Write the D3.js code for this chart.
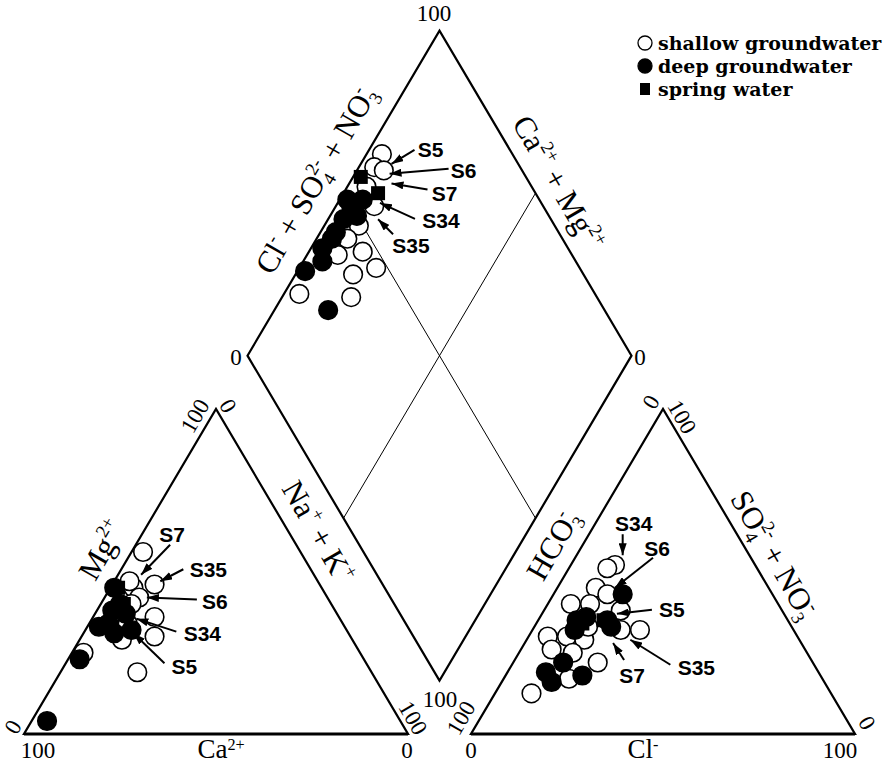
<!DOCTYPE html>
<html>
<head>
<meta charset="utf-8">
<script src="https://cdn.jsdelivr.net/npm/d3@7/dist/d3.min.js"></script>
<style>
  body { margin: 0; background: #fff; }
  svg { display: block; }
</style>
</head>
<body>
<script>
// cation triangle: [Ca2+, Mg2+] in meq %, Na+ + K+ is the remainder
const cationShallow = [[41,56],[43,46],[48,36],[51,30],[61,19],[60,29],[72,25],[49,45],[49,42],[56,34],[49,47],[52,40]];
const cationDeep = [[74,23],[64,33],[92,4],[54,45],[55,40],[58,38],[55,37],[61,31],[56,32],[61,34]];
const cationSpring = [[53,45],[54,40],[61,31]];

// anion triangle: [Cl-, SO4 2- + NO3-] in meq %, HCO3- is the remainder
const anionShallow = [[11.5,52],[10,51],[10,45],[14,43],[6,40],[11,40],[5,30],[8,26],[10,30],[15,29],[23,32],[28,32],[22,22],[14,25],[9.5,12.5],[17,17],[14,33],[20,38]];
const anionDeep = [[18,43],[10,35],[12,36],[18,35],[20,33],[11,32],[13,22],[10,19],[13,16],[20,18]];
const anionSpring = [[12,34],[17,35]];

// diamond: [Ca2+ + Mg2+, Cl- + SO4 2- + NO3-] in meq %
const diamondShallow = [[96,66],[96,62],[93,64],[90,56],[91,49],[92,44],[86,46],[92,39],[80,47],[85,40],[82,36],[96,23],[95,57]];
const diamondDeep = [[98,28],[95,34],[97,36],[86,28],[96,42],[96,46],[96,50],[93,50],[98,50],[96,40],[94,54]];
const diamondSpring = [[98,57],[91,59]];

const seriesNames = ["shallow groundwater", "deep groundwater", "spring water"];

// labelled samples, target value in each panel
const cationNotes = [["S7",45,49],["S35",41,47],["S6",47,42],["S34",53,35.5],["S5",56,31]];
const anionNotes = [["S34",12,55],["S6",15,45],["S5",19.5,37],["S35",27,29],["S7",23,28]];
const diamondNotes = [["S5",92,67],["S6",91,65],["S7",89,64],["S34",89,58],["S35",87,55]];

// where the label sits from the arrow tip: [labelDx, labelDy, tailDx, tailDy]
const noteOffsets = {
  cation: { S7:[31,-40,29,-30], S35:[48,-12,23,-12], S6:[68,4,50,2], S34:[66,15,40,13], S5:[51,33,31,30] },
  anion: { S34:[11,-32,0,-21], S6:[42,-39,38,-30], S5:[55,-4,35,-4], S35:[66,28,40,25], S7:[19,32,11,17] },
  diamond: { S5:[39,-14,23,-14], S6:[74,-3,59,-5], S7:[53,10,36,6], S34:[61,18,35,16], S35:[33,26,15,15] }
};

const width = 896, height = 766;
const base = 734, side = 384, triH = 325, gap = 63;
const leftX0 = 24, rightX0 = leftX0 + side + gap;

// scales for the two triangles (horizontal position / height in %)
const cx = d3.scaleLinear().domain([0, 100]).range([leftX0, leftX0 + side]);
const cy = d3.scaleLinear().domain([0, 100]).range([base, base - triH]);
const ax = d3.scaleLinear().domain([0, 100]).range([rightX0, rightX0 + side]);
const ay = d3.scaleLinear().domain([0, 100]).range([base, base - triH]);

// diamond sits above the gap
const bx = (leftX0 + side + rightX0) / 2;
const by = base - gap * triH / side;
const dx = d3.scaleLinear().domain([-100, 100]).range([bx - side / 2, bx + side / 2]);
const dy = d3.scaleLinear().domain([0, 200]).range([by, by - 2 * triH]);

const cationPos = d => [cx((100 - d[0] - d[1]) + d[1] / 2), cy(d[1])];
const anionPos = d => [ax(d[0] + d[1] / 2), ay(d[1])];
const diamondPos = d => [dx(d[1] - d[0]), dy(d[0] + d[1])];

const serif = "'Liberation Serif', 'Times New Roman', serif";

// parts: [text], [text,"sup"], [text,"sub"], [sub,sup,"stack"]
function richText(g, parts, size, raise = 0.42) {
  const t = g.append("text")
    .attr("font-family", serif)
    .attr("font-size", size)
    .attr("text-anchor", "middle")
    .attr("y", size * 0.33);
  const small = size * 0.6;
  const up = -raise * size, down = 0.22 * size;
  let shift = 0;
  parts.forEach(p => {
    if (p[2] === "stack") {
      t.append("tspan").attr("dy", down - shift).attr("font-size", small).text(p[0]);
      t.append("tspan").attr("dy", up - down).attr("dx", -0.5 * small * p[0].length)
        .attr("font-size", small).text(p[1]);
      shift = up;
      return;
    }
    const kind = p[1];
    const target = kind === "sup" ? up : kind === "sub" ? down : 0;
    t.append("tspan")
      .attr("dy", target - shift)
      .attr("font-size", kind ? small : size)
      .text(p[0]);
    shift = target;
  });
  return t;
}

function label(svg, x, y, rot, parts, size, raise) {
  const g = svg.append("g").attr("transform", `translate(${x},${y}) rotate(${rot})`);
  richText(g, parts, size, raise);
}

function drawPoints(g, data, pos, kind) {
  if (kind === "spring") {
    g.selectAll(null).data(data).join("rect")
      .attr("x", d => pos(d)[0] - 7)
      .attr("y", d => pos(d)[1] - 7)
      .attr("width", 14).attr("height", 14)
      .attr("fill", "#000");
    return;
  }
  g.selectAll(null).data(data).join("circle")
    .attr("cx", d => pos(d)[0])
    .attr("cy", d => pos(d)[1])
    .attr("r", 9.3)
    .attr("fill", kind === "deep" ? "#000" : "#fff")
    .attr("stroke", "#000")
    .attr("stroke-width", 1.6);
}

function drawNotes(g, notes, pos, offsets) {
  notes.forEach(n => {
    const [tx, ty] = pos([n[1], n[2]]);
    const o = offsets[n[0]];
    g.append("line")
      .attr("x1", tx + o[2]).attr("y1", ty + o[3])
      .attr("x2", tx).attr("y2", ty)
      .attr("stroke", "#000").attr("stroke-width", 2)
      .attr("marker-end", "url(#arrow)");
    g.append("text")
      .attr("x", tx + o[0]).attr("y", ty + o[1])
      .attr("dominant-baseline", "central")
      .attr("text-anchor", "middle")
      .attr("font-family", "'Liberation Sans', Arial, sans-serif")
      .attr("font-weight", "bold")
      .attr("font-size", 21)
      .text(n[0]);
  });
}

function createSVG() {
  const svg = d3.select("body").append("svg")
    .attr("width", width)
    .attr("height", height);

  svg.append("defs").append("marker")
    .attr("id", "arrow")
    .attr("viewBox", "0 0 12 8")
    .attr("refX", 12).attr("refY", 4)
    .attr("markerWidth", 12).attr("markerHeight", 8)
    .attr("markerUnits", "userSpaceOnUse")
    .attr("orient", "auto")
    .append("path").attr("d", "M0,0 L12,4 L0,8 Z").attr("fill", "#000");

  const line = d3.line();

  // diamond inner lines
  svg.append("path")
    .attr("d", line([diamondPos([100, 50]), diamondPos([0, 50])]) + line([diamondPos([50, 100]), diamondPos([50, 0])]))
    .attr("fill", "none").attr("stroke", "#000").attr("stroke-width", 1);

  // outlines
  const leftTri = [cationPos([100, 0]), cationPos([0, 0]), cationPos([0, 100])];
  const rightTri = [anionPos([0, 0]), anionPos([100, 0]), anionPos([0, 100])];
  const diamond = [diamondPos([0, 0]), diamondPos([100, 0]), diamondPos([100, 100]), diamondPos([0, 100])];
  [leftTri, rightTri, diamond].forEach(p => {
    svg.append("path").attr("d", line(p) + "Z")
      .attr("fill", "none").attr("stroke", "#000").attr("stroke-width", 2.2)
      .attr("stroke-linejoin", "miter");
  });
  [leftTri, rightTri].forEach(p => {
    svg.append("path").attr("d", line([p[0], p[1]]))
      .attr("stroke", "#000").attr("stroke-width", 3.2);
  });

  // points
  const pts = svg.append("g");
  drawPoints(pts, cationShallow, cationPos, "shallow");
  drawPoints(pts, anionShallow, anionPos, "shallow");
  drawPoints(pts, diamondShallow, diamondPos, "shallow");
  drawPoints(pts, cationDeep, cationPos, "deep");
  drawPoints(pts, anionDeep, anionPos, "deep");
  drawPoints(pts, diamondDeep, diamondPos, "deep");
  drawPoints(pts, cationSpring, cationPos, "spring");
  drawPoints(pts, anionSpring, anionPos, "spring");
  drawPoints(pts, diamondSpring, diamondPos, "spring");

  const notes = svg.append("g");
  drawNotes(notes, cationNotes, cationPos, noteOffsets.cation);
  drawNotes(notes, anionNotes, anionPos, noteOffsets.anion);
  drawNotes(notes, diamondNotes, diamondPos, noteOffsets.diamond);

  // tick labels at the corners
  const t = 23;
  label(svg, 434, 13, 0, [["100"]], t);
  label(svg, 236, 357, 0, [["0"]], t);
  label(svg, 640, 357, 0, [["0"]], t);
  label(svg, 440, 699, 0, [["100"]], t);

  label(svg, 195, 416, -60, [["100"]], t);
  label(svg, 228, 406, 60, [["0"]], t);
  label(svg, 13, 727, -60, [["0"]], t);
  label(svg, 38, 750, 0, [["100"]], t);
  label(svg, 413, 718, 60, [["100"]], t);
  label(svg, 407, 750, 0, [["0"]], t);

  label(svg, 461, 718, -60, [["100"]], t);
  label(svg, 471, 750, 0, [["0"]], t);
  label(svg, 651, 402, -60, [["0"]], t);
  label(svg, 682, 417, 60, [["100"]], t);
  label(svg, 867, 723, 60, [["0"]], t);
  label(svg, 840, 750, 0, [["100"]], t);

  // axis titles
  const a = 31;
  label(svg, 316, 180, -60, [["Cl"], ["-", "sup"], [" + SO"], ["4", "2-", "stack"], [" + NO"], ["3", "-", "stack"]], a);
  label(svg, 558, 183, 60, [["Ca"], ["2+", "sup"], [" + Mg"], ["2+", "sup"]], a);
  label(svg, 318, 532, 60, [["Na"], ["+", "sup"], [" + K"], ["+", "sup"]], a);
  label(svg, 553, 545, -60, [["HCO"], ["3", "-", "stack"]], a);
  label(svg, 102, 550, -60, [["Mg"], ["2+", "sup"]], a);
  label(svg, 774, 555, 60, [["SO"], ["4", "2-", "stack"], [" + NO"], ["3", "-", "stack"]], a);
  label(svg, 221, 749, 0, [["Ca"], ["2+", "sup"]], 27, 0.3);
  label(svg, 643, 749, 0, [["Cl"], ["-", "sup"]], 27, 0.3);

  // legend
  const leg = svg.append("g").attr("transform", "translate(645,43)");
  seriesNames.forEach((name, i) => {
    const row = leg.append("g").attr("transform", `translate(0,${i * 23})`);
    if (i === 2) {
      row.append("rect").attr("x", -5).attr("y", -6).attr("width", 10).attr("height", 12).attr("fill", "#000");
    } else {
      row.append("circle").attr("r", 7)
        .attr("fill", i === 0 ? "#fff" : "#000")
        .attr("stroke", "#000").attr("stroke-width", 1.3);
    }
    row.append("text")
      .attr("x", 13).attr("y", 0)
      .attr("dominant-baseline", "central")
      .attr("font-family", "'DejaVu Serif', serif")
      .attr("font-weight", "bold")
      .attr("font-size", 19)
      .text(name);
  });
}

function main() {
  createSVG();
}

main();
</script>
</body>
</html>
